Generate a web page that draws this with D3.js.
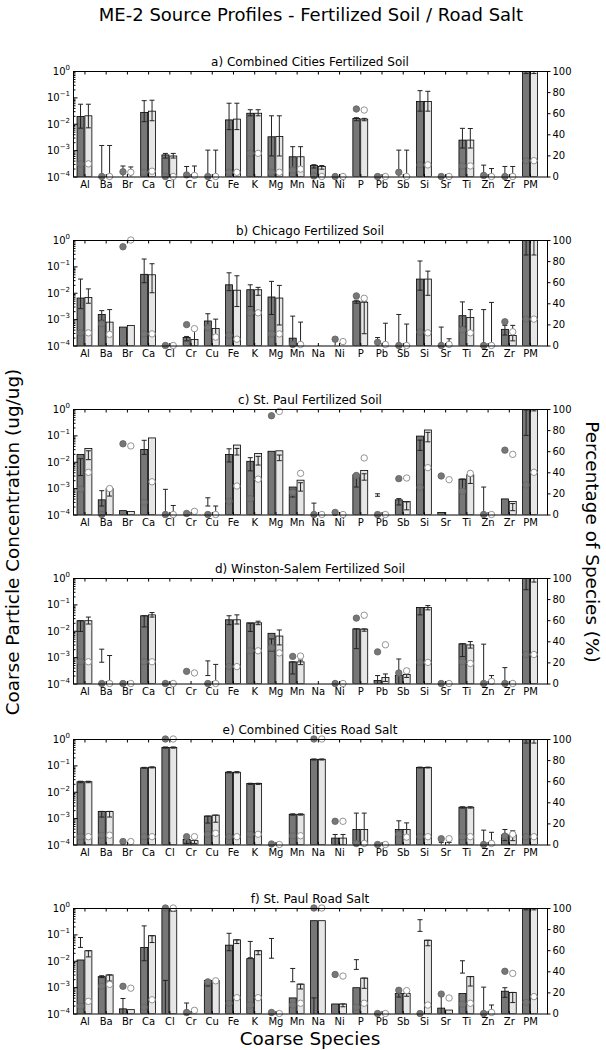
<!DOCTYPE html>
<html><head><meta charset="utf-8">
<script src="https://cdn.jsdelivr.net/npm/d3@7"></script>
<style>body{margin:0;background:#fff}svg{display:block}text{font-family:"DejaVu Sans",sans-serif;fill:#000}</style>
</head><body><div id="chart"></div>
<script>
const species = ["Al","Ba","Br","Ca","Cl","Cr","Cu","Fe","K","Mg","Mn","Na","Ni","P","Pb","Sb","Si","Sr","Ti","Zn","Zr","PM"];
const panelTitles = ["a) Combined Cities Fertilized Soil","b) Chicago Fertilized Soil","c) St. Paul Fertilized Soil","d) Winston-Salem Fertilized Soil","e) Combined Cities Road Salt","f) St. Paul Road Salt"];
const leftTicks = [1e-4,1e-3,1e-2,1e-1,1];
const leftTickExp = ["-4","-3","-2","-1","0"];
const rightTicks = [0,20,40,60,80,100];
const N = null;

// a) Combined Cities Fertilized Soil
const aDark    = [0.019,N,N,0.027,6.6e-4,N,N,0.014,0.025,0.0032,5.6e-4,2.6e-4,N,0.0158,N,N,0.07,N,0.0024,N,N,1];
const aDarkLo  = [0.0068,1e-5,1e-5,0.012,5e-4,1e-5,1e-5,0.006,0.02,6e-4,2e-4,2.1e-4,N,0.013,N,1e-5,0.03,N,0.0012,1e-5,1e-5,0.8];
const aDarkHi  = [0.055,0.0015,2.5e-4,0.075,7.5e-4,2.4e-4,1e-3,0.06,0.034,0.02,1.35e-3,2.8e-4,N,0.017,N,1e-3,0.18,N,0.0067,2.7e-4,2.4e-4,1];
const aLight   = [0.02,N,N,0.03,6e-4,N,N,0.015,0.025,0.0033,5.6e-4,2.4e-4,N,0.015,N,N,0.07,N,0.0024,N,N,1];
const aLightLo = [0.007,1e-5,1e-5,0.013,5e-4,1e-5,1e-5,0.006,0.02,6e-4,2e-4,1.9e-4,N,0.013,N,1e-5,0.03,N,0.0012,1e-5,1e-5,0.8];
const aLightHi = [0.055,0.0015,2.3e-4,0.078,7.5e-4,2.5e-4,1e-3,0.06,0.034,0.02,1.35e-3,2.6e-4,N,0.016,N,1e-3,0.17,N,0.0066,2e-4,2.4e-4,1];
const aDarkPct = [12,0,4.5,4,0,1.5,0,4,22,4,6,0.5,0,64,0,4,11,0,10,1,0,15];
const aLightPct= [12,0,4,5,0,1,0,4,22,4,7,0,0,63,0,0,11,0,10,0,0,15];

// b) Chicago Fertilized Soil
const bDark    = [0.0063,0.0015,5e-4,0.05,N,2e-4,8.5e-4,0.02,0.013,0.0069,1.9e-4,N,N,0.0048,N,N,0.033,N,1.35e-3,N,4.1e-4,1];
const bDarkLo  = [0.0025,9e-4,N,0.024,N,1.5e-4,5.5e-4,0.012,0.003,0.0015,1e-5,N,1e-5,0.004,1e-5,1e-5,0.0125,1e-5,5e-4,1e-5,2.5e-4,0.27];
const bDarkHi  = [0.033,0.0021,N,0.19,N,2.2e-4,1.6e-3,0.057,0.02,0.027,1.3e-3,N,1.6e-4,0.0052,2e-4,1.5e-3,0.16,5e-4,4.5e-3,2.3e-3,5.8e-4,1];
const bLight   = [0.0066,7.7e-4,5.7e-4,0.048,N,1.7e-4,4.4e-4,0.0125,0.013,0.0063,N,N,N,0.0044,N,N,0.033,N,1.15e-3,N,2.4e-4,1];
const bLightLo = [0.004,3e-4,N,0.01,N,1e-5,2.2e-4,0.003,0.008,6e-4,1e-5,N,N,2.8e-4,1e-5,1e-5,0.008,1e-5,3e-4,1e-5,1.5e-4,0.27];
const bLightHi = [0.014,0.0023,N,0.126,N,4.8e-4,1e-3,0.044,0.016,0.019,7.7e-4,N,N,0.0046,7e-4,6.5e-4,0.066,1.8e-4,2.3e-3,4.3e-3,5.8e-4,1];
const bDarkPct = [12,20.6,93.6,11,0,19.8,17,9.7,31,11,1,N,6,47,3,0,12.7,0,15,0,22.5,25];
const bLightPct= [12,10.6,100,11,0,16,8,6,31,11,1,N,3.7,44.8,1,0,12,1,12,0,13,25];

// c) St. Paul Fertilized Soil
const cDark    = [0.019,3.6e-4,1.4e-4,0.029,N,N,N,0.019,0.0104,0.025,1.1e-3,N,N,3.2e-3,N,3.6e-4,0.094,1.2e-4,2.2e-3,N,3.9e-4,1];
const cDarkLo  = [0.003,2.1e-4,N,0.019,1e-5,N,2.1e-4,0.0098,0.0045,N,4.6e-4,1e-5,N,1.1e-3,4.9e-4,2.3e-4,0.027,N,7e-4,1e-5,N,0.1];
const cDarkHi  = [0.013,8e-4,N,0.065,9e-4,N,4.3e-4,0.031,0.0143,N,9e-4,2.7e-4,N,3e-3,6.1e-4,4e-4,0.066,N,2.2e-3,1.1e-3,N,0.92];
const cLight   = [0.032,9.5e-4,1.3e-4,0.08,N,N,N,0.043,0.0205,0.026,2e-3,N,N,4.7e-3,N,3.1e-4,0.16,N,3.2e-3,N,3.1e-4,1];
const cLightLo = [0.012,5e-4,N,N,1e-5,N,1e-5,0.018,0.0075,0.011,7.7e-4,N,N,2e-3,N,1.5e-4,0.057,N,1.5e-3,N,1.4e-4,0.85];
const cLightHi = [0.026,9e-4,N,N,2.2e-4,N,2.1e-4,0.032,0.016,0.018,1.6e-3,N,N,3.5e-3,N,3e-4,0.13,N,2.9e-3,N,2.6e-4,1];
const cDarkPct = [24,0,67,11.6,0,1,0,12.6,15,93.6,21,0,2,37,0,34,25.6,36.5,22,0,61,28];
const cLightPct= [40,24.6,65,31,0,3,0,27,33.5,97.7,39,0,0,53.6,0,34.6,44.4,33,39,0,57,40];

// d) Winston-Salem Fertilized Soil
const dDark    = [0.024,N,N,0.037,N,N,N,0.026,0.02,0.008,6.6e-4,N,N,0.0118,1.3e-4,2e-4,0.076,N,3.2e-3,N,N,1];
const dDarkLo  = [0.0094,6.4e-4,N,0.014,N,N,2e-4,0.017,0.0094,1.7e-3,2.3e-4,N,N,2.1e-3,1e-5,1e-5,0.04,N,1.05e-3,1e-5,1e-5,0.36];
const dDarkHi  = [0.024,2e-3,N,0.037,N,N,7.2e-4,0.037,0.019,4.9e-3,6.6e-4,N,N,0.0118,2e-4,8.5e-4,0.076,N,3.2e-3,3.1e-3,4e-4,1];
const dLight   = [0.024,N,N,0.04,N,N,N,0.026,0.02,0.0063,6.6e-4,N,N,0.0115,1.7e-4,2.2e-4,0.076,N,2.9e-3,N,N,1];
const dLightLo = [0.018,1e-5,N,0.033,N,N,1e-5,0.018,0.017,0.0029,5.2e-4,N,N,0.0096,1.2e-4,1.7e-4,0.062,N,2.2e-3,1e-5,N,0.7];
const dLightHi = [0.033,1.15e-3,N,0.049,N,N,5.3e-4,0.04,0.023,0.0107,7.7e-4,N,N,0.0118,2.3e-4,3.7e-4,0.09,N,3.9e-3,2e-4,N,1];
const dDarkPct = [20.6,0,0,20.6,0,11.5,0,16,31,34,25.7,N,0,62,30,10,20,0,20.6,0,0,27.5];
const dLightPct= [20.6,0,0,20.6,0,10,0,16,31,29,26,N,0,64.7,36.7,12,20,0,19,2,0,27.5];

// e) Combined Cities Road Salt
const eDark    = [0.024,1.8e-3,N,0.081,0.48,1.55e-4,1.2e-3,0.055,0.0204,N,1.4e-3,0.17,1.75e-4,3.7e-4,N,3.7e-4,0.083,N,2.6e-3,N,2.3e-4,1];
const eDarkLo  = [0.022,1.1e-3,N,0.078,0.45,1.1e-4,6.5e-4,0.052,0.019,N,1.3e-3,0.16,1e-5,1e-5,N,2.3e-4,0.08,1e-5,2.4e-3,1e-5,1.4e-4,0.7];
const eDarkHi  = [0.025,1.8e-3,N,0.084,0.5,2.1e-4,1.2e-3,0.058,0.021,N,1.45e-3,0.175,2.4e-4,1.55e-3,N,7.9e-4,0.086,1.2e-4,2.7e-3,3.5e-4,3.7e-4,1];
const eLight   = [0.024,1.8e-3,N,0.085,0.48,1.4e-4,1.3e-3,0.055,0.0204,N,1.4e-3,0.17,1.75e-4,3.7e-4,N,3.7e-4,0.083,N,2.6e-3,N,2.3e-4,1];
const eLightLo = [0.022,1.1e-3,N,0.08,0.45,1.1e-4,7e-4,0.052,0.019,N,1.3e-3,0.16,1e-5,1e-5,N,2e-4,0.08,1e-5,2.4e-3,1e-5,1.4e-4,0.7];
const eLightHi = [0.025,1.8e-3,N,0.088,0.5,2.1e-4,1.3e-3,0.058,0.021,N,1.45e-3,0.175,2.4e-4,1.55e-3,N,6.6e-4,0.086,1.2e-4,2.7e-3,2.9e-4,3.3e-4,1];
const eDarkPct = [7.4,8.8,2.8,7.4,100,7.4,9.7,7.4,9.7,0.5,8.3,100,22,1,0,9.7,7.4,5.5,7.4,0,8,7.4];
const eLightPct= [7.4,8.8,2.8,7.4,100,7.4,10.6,7.4,9.7,0,8.3,100,22,1,0,7,7.4,5.5,7.4,1,9.7,7.4];

// f) St. Paul Road Salt
const fDark    = [0.0107,2.5e-3,1.5e-4,0.032,1,N,1.8e-3,0.039,0.012,N,3.9e-4,0.33,2.3e-4,9.5e-4,N,5.7e-4,N,1.6e-4,5.7e-4,N,7e-4,1];
const fDarkLo  = [0.032,2.3e-3,1e-5,0.01,1e-5,1e-5,1.1e-3,0.024,0.013,0.0125,1.6e-3,1e-5,N,4.7e-3,N,4.2e-4,0.13,1e-5,3.4e-3,1e-5,4.1e-4,0.85];
const fDarkHi  = [0.076,2.7e-3,3.7e-4,0.21,1.8e-3,2.5e-4,1.8e-3,0.11,0.054,0.07,5.1e-3,3.9e-4,N,0.011,N,7.6e-4,0.36,5e-4,0.01,1e-3,9.5e-4,1];
const fLight   = [0.024,2.9e-3,1.4e-4,0.089,0.84,N,1.8e-3,0.062,0.024,N,1.3e-3,0.33,2.3e-4,2.2e-3,N,5.7e-4,0.06,1.35e-4,2.5e-3,N,6.3e-4,1];
const fLightLo = [0.014,1.7e-3,N,0.049,0.75,N,1.5e-3,0.045,0.017,N,8.5e-4,N,1.8e-4,9e-4,N,4.5e-4,0.037,N,1.1e-3,1e-5,2.6e-4,0.85];
const fLightHi = [0.024,2.9e-3,N,0.089,0.9,N,1.8e-3,0.062,0.024,N,1.3e-3,N,2.3e-4,2.2e-3,N,5.7e-4,0.06,N,2.5e-3,2.1e-4,6.3e-4,1];
const fDarkPct = [7,25.8,25.8,6,100,1,30,9.7,8,1,8,100,37,6,0,22,0,18.4,8.8,0,40,10.6];
const fLightPct= [11.5,27.6,24,13,100,3,31,15,15,0,9.7,100,35.5,9.7,0,21.7,8,14.7,9.7,1,38,16];

const panels = [
  [aDark,aDarkLo,aDarkHi,aLight,aLightLo,aLightHi,aDarkPct,aLightPct],
  [bDark,bDarkLo,bDarkHi,bLight,bLightLo,bLightHi,bDarkPct,bLightPct],
  [cDark,cDarkLo,cDarkHi,cLight,cLightLo,cLightHi,cDarkPct,cLightPct],
  [dDark,dDarkLo,dDarkHi,dLight,dLightLo,dLightHi,dDarkPct,dLightPct],
  [eDark,eDarkLo,eDarkHi,eLight,eLightLo,eLightHi,eDarkPct,eLightPct],
  [fDark,fDarkLo,fDarkHi,fLight,fLightLo,fLightHi,fDarkPct,fLightPct]
];

// ---- layout ----
const W = 606, H = 1050;
const L = 73, R = 547, PH = 105.5;
const panelTop = [71, 240, 409, 578, 739, 908];
const darkFill = "#777777", lightFill = "#e6e6e6";

const svg = d3.select("#chart").append("svg").attr("width", W).attr("height", H);

const x = d3.scaleLinear().domain([-0.54, 21.8]).range([L, R]);

svg.append("text").attr("x", 311).attr("y", 21).attr("text-anchor","middle")
  .style("font-size","18px").text("ME-2 Source Profiles - Fertilized Soil / Road Salt");

svg.append("text").attr("transform","translate(19,542) rotate(-90)").attr("text-anchor","middle")
  .style("font-size","18.4px").text("Coarse Particle Concentration (ug/ug)");
svg.append("text").attr("transform","translate(586,542) rotate(90)").attr("text-anchor","middle")
  .style("font-size","18.4px").text("Percentage of Species (%)");
svg.append("text").attr("x", 310).attr("y", 1045).attr("text-anchor","middle")
  .style("font-size","18.4px").text("Coarse Species");

panels.forEach((p, k) => {
  const [dv, dlo, dhi, lv, llo, lhi, dp, lp] = p;
  const top = panelTop[k], bot = top + PH;
  const y = d3.scaleLog().domain([1e-4, 1]).range([bot, top]);
  const yp = d3.scaleLinear().domain([0, 100]).range([bot, top]);
  const g = svg.append("g");
  const cid = "clip" + k;
  g.append("clipPath").attr("id", cid).append("rect").attr("x", L).attr("y", top).attr("width", R - L).attr("height", PH);

  g.append("text").attr("x", 310).attr("y", top - 5).attr("text-anchor","middle")
    .style("font-size","12px").text(panelTitles[k]);

  const series = [
    {v: dv, lo: dlo, hi: dhi, pct: dp, off0: -0.35, off1: -0.02, fill: darkFill},
    {v: lv, lo: llo, hi: lhi, pct: lp, off0: 0.02, off1: 0.35, fill: lightFill}
  ];
  const plot = g.append("g").attr("clip-path", `url(#${cid})`);
  series.forEach(s => {
    const data = species.map((sp, i) => ({i, v: s.v[i], lo: s.lo[i], hi: s.hi[i]}));
    plot.selectAll(null).data(data.filter(d => d.v != null && d.v > 1e-4)).enter().append("rect")
      .attr("x", d => x(d.i + s.off0)).attr("width", d => x(d.i + s.off1) - x(d.i + s.off0))
      .attr("y", d => y(Math.min(d.v, 1))).attr("height", d => bot - y(Math.min(d.v, 1)))
      .attr("fill", s.fill).attr("stroke", "#000").attr("stroke-width", 0.8);
  });
  series.forEach(s => {
    const data = species.map((sp, i) => ({i, lo: s.lo[i], hi: s.hi[i]})).filter(d => d.hi != null && d.lo != null);
    const cx = d => x(d.i + (s.off0 + s.off1) / 2);
    const eg = plot.selectAll(null).data(data).enter().append("g").attr("stroke", "#222").attr("stroke-width", 1);
    eg.append("line").attr("x1", cx).attr("x2", cx).attr("y1", d => y(Math.max(d.lo, 1e-5))).attr("y2", d => y(d.hi));
    eg.append("line").attr("x1", d => cx(d) - 2.5).attr("x2", d => cx(d) + 2.5).attr("y1", d => y(d.hi)).attr("y2", d => y(d.hi));
    eg.append("line").attr("x1", d => cx(d) - 2.5).attr("x2", d => cx(d) + 2.5).attr("y1", d => y(Math.max(d.lo, 1e-5))).attr("y2", d => y(Math.max(d.lo, 1e-5)));
  });
  series.forEach((s, si) => {
    const data = species.map((sp, i) => ({i, p: s.pct[i]})).filter(d => d.p != null);
    g.selectAll(null).data(data).enter().append("circle")
      .attr("cx", d => x(d.i + (s.off0 + s.off1) / 2)).attr("cy", d => yp(d.p)).attr("r", 3.2)
      .attr("fill", si === 0 ? "#777" : "#fff").attr("stroke", si === 0 ? "#666" : "#888").attr("stroke-width", 0.9);
  });

  // frame
  g.append("rect").attr("x", L + 0.5).attr("y", top + 0.5).attr("width", R - L).attr("height", PH)
    .attr("fill", "none").attr("stroke", "#000").attr("stroke-width", 1);

  // left axis (ticks inward)
  const minor = [];
  for (let e = -4; e < 0; e++) for (let m = 2; m <= 9; m++) minor.push(m * Math.pow(10, e));
  g.append("g").attr("transform", `translate(${L + 0.5},0)`)
    .call(d3.axisRight(y).tickValues(minor).tickSize(2).tickFormat(""))
    .call(a => a.select(".domain").remove());
  g.append("g").attr("transform", `translate(${L + 0.5},0)`)
    .call(d3.axisRight(y).tickValues(leftTicks).tickSize(4).tickFormat(""))
    .call(a => a.select(".domain").remove());
  leftTicks.forEach((t, j) => {
    const tx = g.append("text").attr("x", L - 3).attr("y", y(t) + 4).attr("text-anchor", "end").style("font-size", "10px");
    tx.append("tspan").text("10");
    tx.append("tspan").attr("dy", -5).style("font-size", "7px").text(leftTickExp[j].replace("-", "\u2212"));
  });

  // right axis
  g.append("g").attr("transform", `translate(${R + 0.5},0)`)
    .call(d3.axisRight(yp).tickValues(rightTicks).tickSize(3).tickPadding(2))
    .call(a => a.select(".domain").remove())
    .call(a => a.selectAll("text").style("font-size", "10px").style("font-family", "DejaVu Sans"));

  // bottom axis (ticks inward) + top ticks
  g.append("g").attr("transform", `translate(0,${bot + 0.5})`)
    .call(d3.axisBottom(x).tickValues(d3.range(species.length)).tickSize(-3).tickPadding(4).tickFormat(i => species[i]))
    .call(a => a.select(".domain").remove())
    .call(a => a.selectAll("text").style("font-size", "10px").style("font-family", "DejaVu Sans"));
  g.append("g").attr("transform", `translate(0,${top + 0.5})`)
    .call(d3.axisTop(x).tickValues(d3.range(species.length)).tickSize(-3).tickFormat(""))
    .call(a => a.select(".domain").remove());
});
</script></body></html>
